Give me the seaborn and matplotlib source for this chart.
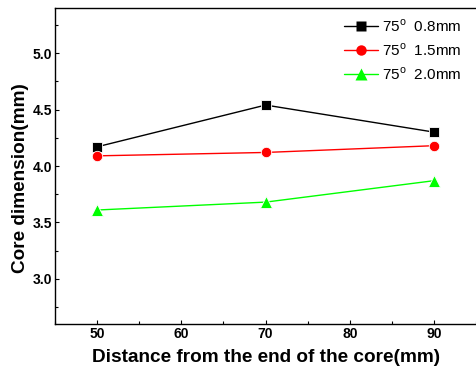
import matplotlib
matplotlib.use("Agg")
import matplotlib.pyplot as plt
import seaborn as sns
import pandas as pd
from matplotlib.ticker import MultipleLocator

distance = [50, 70, 90]
s08 = [4.17, 4.54, 4.30]
s15 = [4.09, 4.12, 4.18]
s20 = [3.61, 3.68, 3.87]
labels = ["75$^{\\mathrm{o}}$  0.8mm", "75$^{\\mathrm{o}}$  1.5mm", "75$^{\\mathrm{o}}$  2.0mm"]
colors = ["black", "red", "#00ff00"]
markers = ["s", "o", "^"]
msizes = [6.5, 7.5, 8.5]

sns.set_theme(style="ticks")
plt.rcParams['font.family'] = ['Liberation Sans', 'DejaVu Sans']
plt.rcParams['mathtext.fontset'] = 'custom'
plt.rcParams['mathtext.rm'] = 'Liberation Sans'
plt.rcParams['text.color'] = 'black'
plt.rcParams['axes.labelcolor'] = 'black'
plt.rcParams['xtick.color'] = 'black'
plt.rcParams['ytick.color'] = 'black'

rows = []
for lab, vals in zip(labels, [s08, s15, s20]):
    for d, v in zip(distance, vals):
        rows.append({"d": d, "v": v, "s": lab})
df = pd.DataFrame(rows)

fig = plt.figure(figsize=(4.76, 3.72), dpi=100)
ax = fig.add_axes([55/476, 1-324/372, 1.0, (324-8)/372])
for lab, c, m, ms in zip(labels, colors, markers, msizes):
    sub = df[df.s == lab]
    sns.lineplot(data=sub, x="d", y="v", ax=ax, color=c, marker=m, markersize=ms,
                 markeredgecolor='white', markeredgewidth=0.6, linewidth=1, label=lab)

x_per_px = 10/84.25
ax.set_xlim(45, 45 + 476*x_per_px)
ax.set_ylim(2.6, 5.4)
ax.xaxis.set_minor_locator(MultipleLocator(5))
ax.yaxis.set_minor_locator(MultipleLocator(0.25))
ax.set_xticks([50, 60, 70, 80, 90])
ax.set_yticks([3.0, 3.5, 4.0, 4.5, 5.0])
ax.tick_params(which='both', direction='in', length=3, width=0.8, labelsize=10, pad=2)
ax.tick_params(which='minor', length=2)
for t in ax.get_xticklabels() + ax.get_yticklabels():
    t.set_fontweight('bold')
ax.set_xlabel("Distance from the end of the core(mm)", fontsize=13.7, fontweight='bold')
ax.set_ylabel("Core dimension(mm)", fontsize=13.7, fontweight='bold')
ax.xaxis.set_label_coords((266-55)/476, -0.078)
ax.yaxis.set_label_coords(-(55-29)/476, (324-178)/316)
for sp in ax.spines.values():
    sp.set_linewidth(1)
    sp.set_color('black')
ax.spines['right'].set_visible(False)

leg = ax.legend(loc='upper left', bbox_to_anchor=((334-55)/476, 1.0), frameon=False,
                fontsize=11, handlelength=2.2, handletextpad=0.3, labelspacing=0.48,
                borderaxespad=0.25)
for h in leg.legend_handles:
    h.set_markeredgecolor('none')
fig.savefig("out.png", dpi=100)
